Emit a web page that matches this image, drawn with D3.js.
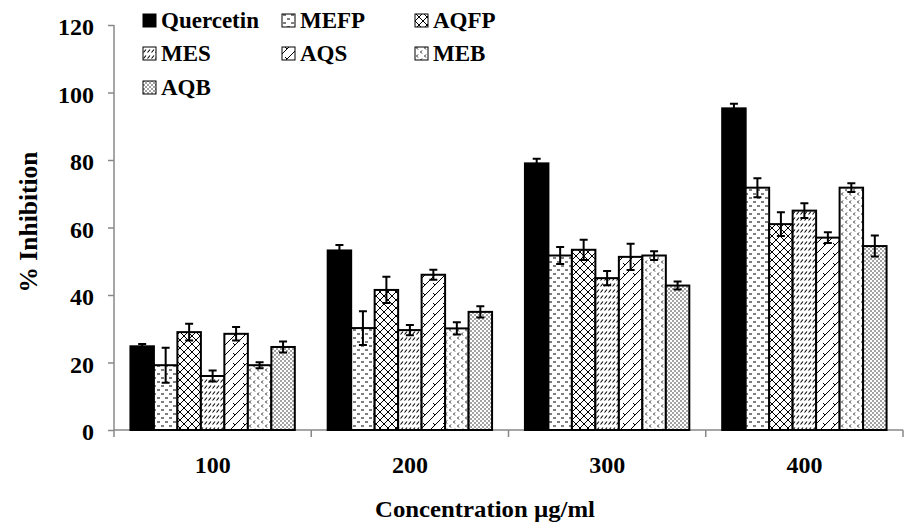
<!DOCTYPE html>
<html>
<head>
<meta charset="utf-8">
<script src="https://cdn.jsdelivr.net/npm/d3@7"></script>
<style>
  body { margin: 0; background: #fff; }
  svg text { font-weight: bold; }
</style>
</head>
<body>
<div id="chart"></div>
<script>
// data
var categories = ["100", "200", "300", "400"];
var series = ["Quercetin", "MEFP", "AQFP", "MES", "AQS", "MEB", "AQB"];
var values = {
  Quercetin: [24.8, 53.2, 79.0, 95.3],
  MEFP:      [19.2, 30.2, 51.7, 71.8],
  AQFP:      [29.0, 41.5, 53.4, 61.0],
  MES:       [16.0, 29.6, 45.0, 65.0],
  AQS:       [28.5, 46.0, 51.3, 57.0],
  MEB:       [19.2, 30.1, 51.7, 71.8],
  AQB:       [24.6, 35.0, 42.8, 54.5]
};
var errors = {
  Quercetin: [0.7, 1.6, 1.4, 1.4],
  MEFP:      [5.2, 5.0, 2.5, 2.8],
  AQFP:      [2.5, 3.9, 3.0, 3.5],
  MES:       [1.6, 1.5, 2.1, 2.2],
  AQS:       [2.0, 1.5, 3.9, 1.6],
  MEB:       [0.9, 1.8, 1.3, 1.3],
  AQB:       [1.6, 1.7, 1.2, 3.1]
};
var yTicks = [0, 20, 40, 60, 80, 100, 120];

var w = 904, h = 529;
var plotLeft = 114, plotRight = 903, plotTop = 25, plotBottom = 430;
var serifFont = "'Liberation Serif', Tinos, 'Noto Serif', 'DejaVu Serif', FreeSerif, Georgia, serif";

var svg = d3.select("#chart").append("svg")
  .attr("width", w).attr("height", h);

// hatch patterns
var defs = svg.append("defs");
function pat(id, pw, ph, draw) {
  var p = defs.append("pattern").attr("id", id)
    .attr("patternUnits", "userSpaceOnUse")
    .attr("width", pw).attr("height", ph);
  p.append("rect").attr("width", pw).attr("height", ph).attr("fill", "#fff");
  draw(p);
}
pat("p-mefp", 8, 8, function(p) {
  p.append("path").attr("d", "M1,2H4M5,6H8")
    .attr("stroke", "#000").attr("stroke-width", 1.2);
});
pat("p-aqfp", 8, 8, function(p) {
  p.append("path").attr("d", "M0,0L8,8M8,0L0,8")
    .attr("stroke", "#000").attr("stroke-width", 1);
});
pat("p-mes", 4, 6, function(p) {
  p.append("path").attr("d", "M0.5,4.5L3,1.5")
    .attr("stroke", "#000").attr("stroke-width", 1.1);
});
pat("p-aqs", 10, 10, function(p) {
  p.append("path").attr("d", "M0,10L10,0M-1,1L1,-1M9,11L11,9M3,3L5,5")
    .attr("stroke", "#000").attr("stroke-width", 1);
});
pat("p-meb", 8, 8, function(p) {
  p.append("path").attr("d", "M3,0.5L1.5,2L3,3.5M7,4.5L5.5,6L7,7.5")
    .attr("stroke", "#000").attr("stroke-width", 0.9).attr("fill", "none");
});
pat("p-aqb", 4, 4, function(p) {
  p.append("circle").attr("cx", 1).attr("cy", 1).attr("r", 0.7).attr("fill", "#000");
  p.append("circle").attr("cx", 3).attr("cy", 3).attr("r", 0.7).attr("fill", "#000");
});
var fills = {
  Quercetin: "#000", MEFP: "url(#p-mefp)", AQFP: "url(#p-aqfp)", MES: "url(#p-mes)",
  AQS: "url(#p-aqs)", MEB: "url(#p-meb)", AQB: "url(#p-aqb)"
};

var x = d3.scaleBand().domain(categories).range([plotLeft, plotRight]);
var xs = d3.scaleBand().domain(series).range([0, x.bandwidth()])
  .paddingInner(0).paddingOuter(0.7);
var y = d3.scaleLinear().domain([0, 120]).range([plotBottom, plotTop]);

// y axis
var yAxis = svg.append("g").attr("transform", "translate(" + plotLeft + ",0)")
  .call(d3.axisLeft(y).tickValues(yTicks).tickSize(6).tickPadding(14));
yAxis.attr("font-family", null).attr("font-size", null);
yAxis.selectAll("path, line").attr("stroke", "#888").attr("stroke-width", 1.5);
yAxis.select(".domain").attr("d", "M0," + plotTop + "V" + plotBottom);
yAxis.selectAll("text").attr("fill", "#000")
  .style("font-family", serifFont).style("font-size", "24px")
  .attr("dy", "0.4em");

// x axis
svg.append("line").attr("x1", plotLeft).attr("x2", plotRight)
  .attr("y1", plotBottom).attr("y2", plotBottom)
  .attr("stroke", "#888").attr("stroke-width", 1.5);
svg.selectAll("line.xtick")
  .data(categories.concat(["end"]))
  .enter().append("line").attr("class", "xtick")
  .attr("x1", function(d, i) { return plotLeft + i * x.bandwidth(); })
  .attr("x2", function(d, i) { return plotLeft + i * x.bandwidth(); })
  .attr("y1", plotBottom).attr("y2", plotBottom + 7)
  .attr("stroke", "#888").attr("stroke-width", 1.5);
svg.selectAll("text.xlab")
  .data(categories)
  .enter().append("text").attr("class", "xlab")
  .attr("x", function(d) { return x(d) + x.bandwidth() / 2; })
  .attr("y", 473)
  .attr("text-anchor", "middle")
  .style("font-family", serifFont).style("font-size", "24px")
  .text(function(d) { return d; });

// bars
var groups = svg.selectAll("g.series")
  .data(series)
  .enter().append("g").attr("class", "series");

function rows(s) {
  return categories.map(function(c, i) { return {s: s, c: c, v: values[s][i], e: errors[s][i]}; });
}

groups.selectAll("rect")
  .data(rows)
  .enter().append("rect")
  .attr("x", function(d) { return x(d.c) + xs(d.s); })
  .attr("y", function(d) { return y(d.v); })
  .attr("width", xs.bandwidth())
  .attr("height", function(d) { return plotBottom - y(d.v); })
  .attr("fill", function(d) { return fills[d.s]; })
  .attr("stroke", "#000").attr("stroke-width", 2);

// error bars
groups.selectAll("path.err")
  .data(rows)
  .enter().append("path").attr("class", "err")
  .attr("d", function(d) {
    var cx = x(d.c) + xs(d.s) + xs.bandwidth() / 2;
    var y1 = y(d.v + d.e), y2 = y(d.v - d.e);
    return "M" + (cx - 4) + "," + y1 + "H" + (cx + 4) +
      "M" + cx + "," + y1 + "V" + y2 +
      "M" + (cx - 4) + "," + y2 + "H" + (cx + 4);
  })
  .attr("stroke", "#000").attr("stroke-width", 2).attr("fill", "none");

// axis titles
svg.append("text")
  .attr("transform", "translate(37,222) rotate(-90)")
  .attr("text-anchor", "middle")
  .style("font-family", serifFont).style("font-size", "25px")
  .attr("textLength", 141).attr("lengthAdjust", "spacingAndGlyphs")
  .text("% Inhibition");
svg.append("text")
  .attr("x", 485).attr("y", 517)
  .attr("text-anchor", "middle")
  .style("font-family", serifFont).style("font-size", "24px")
  .attr("textLength", 220).attr("lengthAdjust", "spacingAndGlyphs")
  .text("Concentration µg/ml");

// legend
var legX = [143, 282, 415], legY = [21, 54, 88];
var leg = svg.selectAll("g.legend")
  .data(series)
  .enter().append("g").attr("class", "legend")
  .attr("transform", function(d, i) {
    return "translate(" + legX[i % 3] + "," + legY[Math.floor(i / 3)] + ")";
  });
leg.append("rect")
  .attr("x", 0).attr("y", -7).attr("width", 13).attr("height", 13)
  .attr("fill", function(d) { return fills[d]; })
  .attr("stroke", "#000").attr("stroke-width", 1);
leg.append("text")
  .attr("x", 18).attr("y", 7)
  .style("font-family", serifFont).style("font-size", "23px")
  .text(function(d) { return d; });
</script>
</body>
</html>
